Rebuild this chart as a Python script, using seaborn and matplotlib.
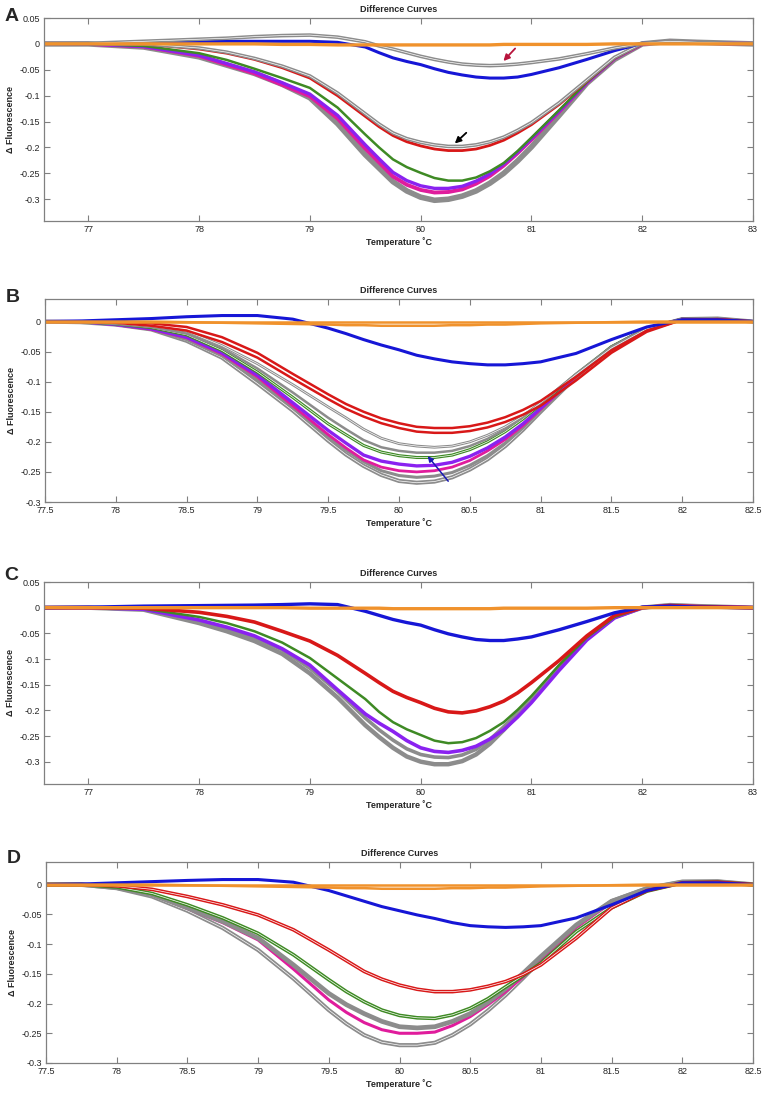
import matplotlib
matplotlib.use("Agg")
import matplotlib.pyplot as plt
import seaborn as sns

# temperature grids (deg C)
temp_ac = [76.6, 77.0, 77.5, 78.0, 78.25, 78.5, 78.75, 79.0, 79.25, 79.5, 79.625, 79.75,
           79.875, 80.0, 80.125, 80.25, 80.375, 80.5, 80.625, 80.75, 80.875, 81.0, 81.25,
           81.5, 81.75, 82.0, 82.25, 82.5, 83.0]
temp_bd = [77.5, 77.75, 78.0, 78.25, 78.5, 78.75, 79.0, 79.25, 79.5, 79.625, 79.75, 79.875,
           80.0, 80.125, 80.25, 80.375, 80.5, 80.625, 80.75, 80.875, 81.0, 81.25, 81.5,
           81.75, 82.0, 82.25, 82.5]

# panel A
a_orange = [0, 0, 0, 0, 0, 0, -0.001, -0.001, -0.002, -0.002, -0.002, -0.002, -0.002, -0.002,
            -0.002, -0.002, -0.002, -0.002, -0.002, -0.001, -0.001, -0.001, -0.001, -0.001,
            0, 0, 0, 0, 0]
a_gray_hi = [0, 0.001, 0.005, 0.009, 0.011, 0.014, 0.016, 0.017, 0.013, 0.004, -0.004, -0.010,
             -0.017, -0.024, -0.030, -0.035, -0.039, -0.041, -0.042, -0.041, -0.039, -0.036,
             -0.029, -0.019, -0.008, 0.001, 0.005, 0.003, 0]
a_blue = [0, 0, 0.002, 0.004, 0.005, 0.005, 0.005, 0.005, 0.003, -0.006, -0.017, -0.027,
          -0.034, -0.040, -0.048, -0.055, -0.060, -0.064, -0.066, -0.066, -0.064, -0.059,
          -0.046, -0.030, -0.013, 0.001, 0.004, 0.002, 0]
a_red = [0, 0, 0, -0.010, -0.018, -0.030, -0.046, -0.066, -0.100, -0.140, -0.160, -0.177,
         -0.189, -0.197, -0.203, -0.206, -0.206, -0.203, -0.196, -0.186, -0.172, -0.156,
         -0.117, -0.072, -0.027, 0, 0.004, 0.002, 0]
a_gray_mid = [0, 0, 0, -0.008, -0.016, -0.028, -0.043, -0.062, -0.095, -0.135, -0.155, -0.172,
              -0.183, -0.190, -0.195, -0.198, -0.198, -0.195, -0.189, -0.180, -0.167, -0.152,
              -0.114, -0.070, -0.026, 0.001, 0.004, 0.002, 0]
a_green = [0, 0, -0.004, -0.018, -0.031, -0.048, -0.066, -0.085, -0.123, -0.175, -0.200,
           -0.223, -0.238, -0.249, -0.259, -0.264, -0.264, -0.258, -0.246, -0.230, -0.207,
           -0.181, -0.128, -0.074, -0.028, 0, 0.004, 0.002, 0]
a_purple = [0, 0, -0.005, -0.022, -0.038, -0.054, -0.075, -0.097, -0.138, -0.195, -0.222,
            -0.248, -0.264, -0.274, -0.279, -0.279, -0.275, -0.265, -0.251, -0.232, -0.209,
            -0.183, -0.130, -0.075, -0.028, 0, 0.004, 0.002, 0]
a_magenta = [0, 0, -0.005, -0.023, -0.040, -0.057, -0.079, -0.101, -0.144, -0.202, -0.229,
             -0.256, -0.272, -0.282, -0.287, -0.286, -0.281, -0.270, -0.255, -0.235, -0.211,
             -0.185, -0.131, -0.075, -0.028, 0, 0.004, 0.002, 0]
a_gray_lo = [0, 0, -0.006, -0.025, -0.041, -0.057, -0.078, -0.104, -0.154, -0.214, -0.240,
             -0.266, -0.284, -0.296, -0.302, -0.300, -0.294, -0.284, -0.269, -0.250, -0.226,
             -0.199, -0.138, -0.076, -0.030, 0, 0.005, 0.003, 0]

# panel B
b_orange_hi = [0] * 27
b_orange_lo = [0, 0, 0, 0, -0.001, -0.002, -0.003, -0.004, -0.005, -0.006, -0.006, -0.007,
               -0.007, -0.007, -0.007, -0.006, -0.006, -0.005, -0.005, -0.004, -0.003, -0.002,
               -0.001, 0, 0, 0, 0]
b_blue = [0, 0.001, 0.003, 0.005, 0.008, 0.010, 0.010, 0.004, -0.011, -0.020, -0.030, -0.039,
          -0.047, -0.056, -0.062, -0.067, -0.070, -0.072, -0.072, -0.070, -0.067, -0.053,
          -0.030, -0.009, 0.003, 0.003, 0]
b_red_hi = [0, 0, 0, -0.003, -0.009, -0.026, -0.052, -0.087, -0.121, -0.137, -0.150, -0.161,
            -0.169, -0.175, -0.177, -0.177, -0.174, -0.168, -0.159, -0.147, -0.132, -0.092,
            -0.048, -0.015, 0.003, 0.004, 0]
b_red_lo = [0, 0, -0.002, -0.007, -0.015, -0.034, -0.060, -0.095, -0.129, -0.145, -0.158,
            -0.169, -0.177, -0.183, -0.185, -0.185, -0.182, -0.176, -0.167, -0.155, -0.140,
            -0.098, -0.052, -0.017, 0.003, 0.004, 0]
b_gray_1 = [0, 0, -0.003, -0.008, -0.016, -0.040, -0.070, -0.105, -0.142, -0.160, -0.179,
            -0.194, -0.203, -0.207, -0.209, -0.207, -0.200, -0.189, -0.175, -0.157, -0.135,
            -0.088, -0.044, -0.012, 0.004, 0.005, 0]
b_gray_2 = [0, 0, -0.004, -0.009, -0.020, -0.044, -0.078, -0.118, -0.160, -0.179, -0.197,
            -0.209, -0.215, -0.218, -0.218, -0.215, -0.207, -0.195, -0.179, -0.159, -0.136,
            -0.087, -0.042, -0.011, 0.004, 0.005, 0]
b_green = [0, 0, -0.004, -0.010, -0.022, -0.048, -0.084, -0.126, -0.170, -0.188, -0.206,
           -0.217, -0.223, -0.226, -0.226, -0.222, -0.213, -0.200, -0.183, -0.162, -0.138,
           -0.088, -0.042, -0.011, 0.004, 0.004, 0]
b_purple = [0, 0, -0.005, -0.012, -0.026, -0.052, -0.089, -0.135, -0.181, -0.202, -0.222,
            -0.232, -0.237, -0.240, -0.239, -0.234, -0.224, -0.210, -0.192, -0.170, -0.144,
            -0.090, -0.043, -0.011, 0.004, 0.004, 0]
b_magenta = [0, 0, -0.005, -0.013, -0.027, -0.054, -0.092, -0.140, -0.188, -0.210, -0.230,
             -0.242, -0.248, -0.250, -0.248, -0.242, -0.231, -0.215, -0.196, -0.173, -0.146,
             -0.091, -0.043, -0.011, 0.004, 0.004, 0]
b_gray_4 = [0, 0, -0.005, -0.013, -0.030, -0.057, -0.097, -0.143, -0.192, -0.214, -0.233,
            -0.248, -0.256, -0.259, -0.257, -0.251, -0.239, -0.223, -0.202, -0.177, -0.148,
            -0.091, -0.043, -0.012, 0.004, 0.005, 0]
b_gray_3 = [0, -0.001, -0.005, -0.013, -0.032, -0.060, -0.103, -0.148, -0.198, -0.221, -0.240,
            -0.255, -0.265, -0.268, -0.266, -0.259, -0.246, -0.229, -0.207, -0.180, -0.150,
            -0.092, -0.043, -0.012, 0.004, 0.005, 0]

# panel C
c_orange = [0, 0, 0, 0, 0, 0, 0, -0.001, -0.001, -0.001, -0.001, -0.002, -0.002, -0.002,
            -0.002, -0.002, -0.002, -0.002, -0.002, -0.001, -0.001, -0.001, -0.001, -0.001,
            0, 0, 0, 0, 0]
c_blue = [0, 0.001, 0.003, 0.004, 0.0045, 0.005, 0.006, 0.0075, 0.006, -0.007, -0.015, -0.023,
          -0.029, -0.034, -0.043, -0.051, -0.057, -0.062, -0.064, -0.064, -0.061, -0.057,
          -0.043, -0.027, -0.010, 0.001, 0.003, 0.001, 0]
c_red = [0, 0, -0.001, -0.009, -0.017, -0.028, -0.046, -0.065, -0.093, -0.128, -0.146, -0.163,
         -0.175, -0.185, -0.196, -0.203, -0.205, -0.201, -0.193, -0.182, -0.166, -0.146,
         -0.103, -0.055, -0.015, 0, 0.004, 0.002, 0]
c_green = [0, 0, -0.002, -0.018, -0.030, -0.046, -0.068, -0.098, -0.138, -0.178, -0.203,
           -0.223, -0.237, -0.248, -0.259, -0.264, -0.262, -0.254, -0.240, -0.223, -0.199,
           -0.172, -0.112, -0.058, -0.018, 0, 0.004, 0.002, 0]
c_purple = [0, 0, -0.003, -0.024, -0.038, -0.055, -0.080, -0.112, -0.160, -0.207, -0.225,
            -0.241, -0.259, -0.273, -0.280, -0.282, -0.278, -0.270, -0.256, -0.238, -0.213,
            -0.185, -0.122, -0.063, -0.020, 0, 0.004, 0.002, 0]
c_gray_hi = [0, 0, -0.003, -0.026, -0.041, -0.058, -0.082, -0.118, -0.163, -0.215, -0.238,
             -0.258, -0.275, -0.286, -0.291, -0.292, -0.287, -0.276, -0.257, -0.232, -0.205,
             -0.176, -0.114, -0.058, -0.018, 0, 0.005, 0.003, 0]
c_gray_lo = [0, 0, -0.004, -0.030, -0.046, -0.065, -0.090, -0.128, -0.175, -0.229, -0.252,
             -0.273, -0.290, -0.300, -0.305, -0.305, -0.299, -0.286, -0.265, -0.238, -0.209,
             -0.179, -0.115, -0.058, -0.018, 0, 0.005, 0.003, 0]

# panel D
d_orange_hi = [0] * 27
d_orange_lo = b_orange_lo
d_blue = [0, 0.001, 0.003, 0.005, 0.007, 0.0085, 0.0085, 0.004, -0.010, -0.019, -0.028,
          -0.037, -0.044, -0.051, -0.057, -0.064, -0.069, -0.071, -0.072, -0.071, -0.069,
          -0.056, -0.034, -0.010, 0.003, 0.003, 0]
d_red = [0, 0, -0.002, -0.008, -0.020, -0.034, -0.051, -0.076, -0.110, -0.128, -0.146, -0.159,
         -0.169, -0.176, -0.180, -0.180, -0.177, -0.171, -0.163, -0.151, -0.135, -0.090,
         -0.039, -0.010, 0.003, 0.004, 0]
d_green = [0, 0, -0.004, -0.015, -0.034, -0.056, -0.082, -0.118, -0.160, -0.180, -0.197,
           -0.211, -0.220, -0.224, -0.225, -0.219, -0.208, -0.192, -0.172, -0.153, -0.132,
           -0.079, -0.039, -0.011, 0.003, 0.004, 0]
d_gray_mid = [0, 0, -0.005, -0.017, -0.039, -0.062, -0.090, -0.135, -0.183, -0.202, -0.217,
              -0.230, -0.239, -0.241, -0.239, -0.230, -0.217, -0.198, -0.175, -0.149, -0.121,
              -0.068, -0.028, -0.007, 0.004, 0.005, 0]
d_magenta = [0, 0, -0.005, -0.017, -0.040, -0.064, -0.093, -0.142, -0.194, -0.215, -0.232,
             -0.244, -0.250, -0.250, -0.248, -0.237, -0.222, -0.202, -0.180, -0.155, -0.127,
             -0.072, -0.030, -0.008, 0.004, 0.005, 0]
d_gray_lo = [0, 0, -0.006, -0.020, -0.044, -0.073, -0.110, -0.158, -0.211, -0.234, -0.253,
             -0.265, -0.270, -0.270, -0.266, -0.253, -0.235, -0.212, -0.186, -0.157, -0.127,
             -0.070, -0.028, -0.006, 0.005, 0.005, 0]

# tick labels
xticks_ac = [77, 78, 79, 80, 81, 82, 83]
xticks_bd = [77.5, 78, 78.5, 79, 79.5, 80, 80.5, 81, 81.5, 82, 82.5]
yticks_ac = [0.05, 0, -0.05, -0.1, -0.15, -0.2, -0.25, -0.3]
yticks_bd = [0, -0.05, -0.1, -0.15, -0.2, -0.25, -0.3]

GRAY = "#8c8c8c"
BLUE = "#1616d6"
RED = "#d81818"
GREEN = "#3e8a24"
PURPLE = "#8a22f0"
MAGENTA = "#e01c9c"
ORANGE = "#f0922c"

sns.set_style("ticks")
plt.rcParams["font.family"] = ["Liberation Sans", "DejaVu Sans"]
plt.rcParams["axes.unicode_minus"] = False

fig = plt.figure(figsize=(7.66, 10.95), dpi=100)
W, H = 766, 1095


def add_axes(left, top, right, bottom):
    return fig.add_axes([left / W, 1 - bottom / H, (right - left) / W, (bottom - top) / H])


def draw_panel(ax, temp, curves, xlim, ylim, xticks, yticks, letter, letter_y):
    # curves: (values, color, linewidth, white gap)
    for vals, color, lw, gap in curves:
        sns.lineplot(x=temp, y=vals, color=color, linewidth=lw, ax=ax)
        if gap:
            sns.lineplot(x=temp, y=vals, color="white", linewidth=0.5, ax=ax)
    ax.set_xlim(*xlim)
    ax.set_ylim(*ylim)
    ax.set_xticks(xticks)
    ax.set_xticklabels([f"{t:g}" for t in xticks])
    ax.set_yticks(yticks)
    ax.set_yticklabels([f"{t:g}" for t in yticks])
    ax.tick_params(direction="in", top=True, right=True, length=4, width=0.8,
                   color="#808080", labelsize=6.5, pad=3)
    for sp in ax.spines.values():
        sp.set_visible(True)
        sp.set_color("#808080")
        sp.set_linewidth(0.9)
    ax.set_title("Difference Curves", fontsize=6.5, fontweight="bold", pad=4)
    ax.set_xlabel("Temperature ˚C", fontsize=6.5, fontweight="bold", labelpad=2)
    ax.set_ylabel("Δ Fluorescence", fontsize=6.5, fontweight="bold", labelpad=3)
    ax.text(-0.056, letter_y, letter, transform=ax.transAxes, fontsize=14,
            fontweight="bold", ha="left", va="baseline")


ax_a = add_axes(44, 18, 753, 221)
draw_panel(ax_a, temp_ac, [
    (a_gray_lo, GRAY, 4.0, False),
    (a_magenta, MAGENTA, 2.8, False),
    (a_purple, PURPLE, 2.4, False),
    (a_green, GREEN, 1.8, False),
    (a_red, RED, 2.0, False),
    (a_gray_mid, GRAY, 2.6, True),
    (a_blue, BLUE, 2.2, False),
    (a_gray_hi, GRAY, 2.6, True),
    (a_orange, ORANGE, 2.4, False),
], (76.6, 83), (-0.342, 0.05), xticks_ac, yticks_ac, "A", 0.985)
ax_a.annotate("", xy=(80.73, -0.037), xytext=(80.87, -0.005),
              arrowprops=dict(arrowstyle="-|>", color="#b8143c", lw=1.3, mutation_scale=9))
ax_a.annotate("", xy=(80.29, -0.196), xytext=(80.43, -0.168),
              arrowprops=dict(arrowstyle="-|>", color="black", lw=1.3, mutation_scale=9))

ax_b = add_axes(45, 299, 753, 502)
draw_panel(ax_b, temp_bd, [
    (b_gray_3, GRAY, 3.0, True),
    (b_gray_4, GRAY, 2.2, False),
    (b_magenta, MAGENTA, 2.0, False),
    (b_purple, PURPLE, 2.4, False),
    (b_green, GREEN, 2.2, True),
    (b_gray_2, GRAY, 1.8, False),
    (b_gray_1, GRAY, 2.0, True),
    (b_red_lo, RED, 1.8, False),
    (b_red_hi, RED, 1.8, False),
    (b_blue, BLUE, 2.2, False),
    (b_orange_lo, ORANGE, 1.8, False),
    (b_orange_hi, ORANGE, 1.8, False),
], (77.5, 82.5), (-0.3, 0.0375), xticks_bd, yticks_bd, "B", 0.985)
ax_b.annotate("", xy=(80.19, -0.220), xytext=(80.36, -0.269),
              arrowprops=dict(arrowstyle="-|>", color="#1a1ab4", lw=1.1, mutation_scale=8))

ax_c = add_axes(44, 582, 753, 784)
draw_panel(ax_c, temp_ac, [
    (c_gray_lo, GRAY, 3.2, False),
    (c_gray_hi, GRAY, 2.6, False),
    (c_purple, PURPLE, 2.6, False),
    (c_green, GREEN, 1.8, False),
    (c_red, RED, 2.6, False),
    (c_blue, BLUE, 2.4, False),
    (c_orange, ORANGE, 2.4, False),
], (76.6, 83), (-0.3435, 0.039), xticks_ac, yticks_ac, "C", 1.01)

ax_d = add_axes(46, 862, 753, 1063)
draw_panel(ax_d, temp_bd, [
    (d_gray_lo, GRAY, 3.0, True),
    (d_magenta, MAGENTA, 2.2, False),
    (d_gray_mid, GRAY, 3.4, False),
    (d_green, GREEN, 2.6, True),
    (d_red, RED, 2.6, True),
    (d_blue, BLUE, 2.2, False),
    (d_orange_lo, ORANGE, 1.8, False),
    (d_orange_hi, ORANGE, 1.8, False),
], (77.5, 82.5), (-0.3, 0.038), xticks_bd, yticks_bd, "D", 0.995)

fig.savefig("out.png", dpi=100)
